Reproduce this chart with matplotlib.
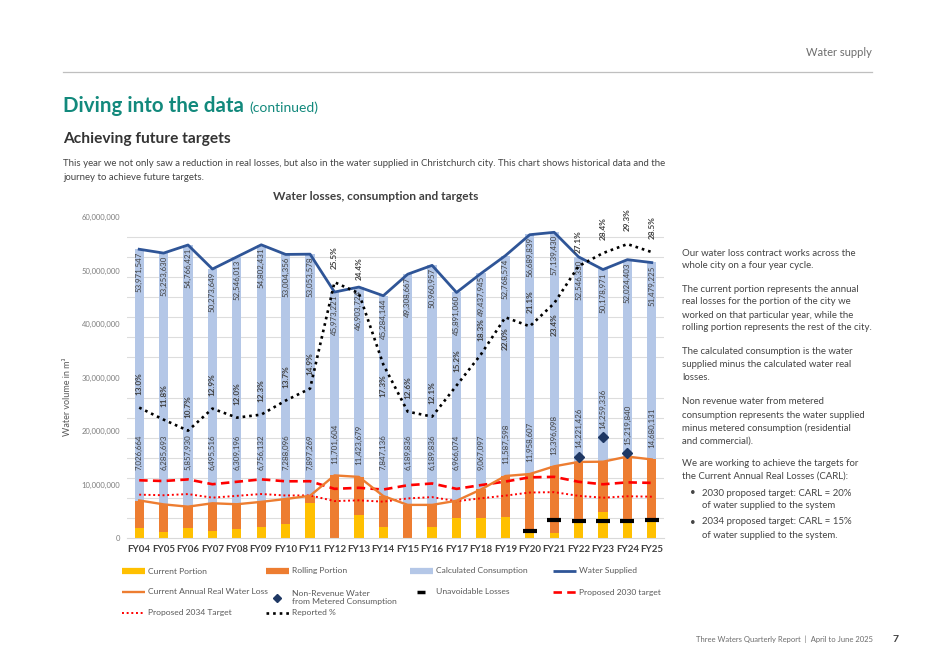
import numpy as np
import matplotlib
matplotlib.use("Agg")
from matplotlib import pyplot as plt
from matplotlib.lines import Line2D
from matplotlib.ticker import FuncFormatter

plt.rcParams["font.family"] = ["Lato", "DejaVu Sans"]

W, H = 934, 661

# --- data ---
years = ["FY04", "FY05", "FY06", "FY07", "FY08", "FY09", "FY10", "FY11", "FY12", "FY13", "FY14",
         "FY15", "FY16", "FY17", "FY18", "FY19", "FY20", "FY21", "FY22", "FY23", "FY24", "FY25"]
water_supplied = [53971547, 53253630, 54766421, 50273649, 52546013, 54802431, 53004356, 53053578,
                  45973221, 46903724, 45284144, 49308667, 50960957, 45891060, 49437945, 52768574,
                  56689839, 57139430, 52546330, 50178971, 52024403, 51479225]
real_loss = [7026664, 6285693, 5857930, 6495516, 6309196, 6756132, 7288096, 7897269, 11701604,
             11423679, 7847136, 6189836, 6189836, 6966074, 9067097, 11587598, 11958607, 13396098,
             14221426, 14259336, 15219840, 14680131]
# million m3
current_portion = [1.8, 1.1, 1.8, 1.4, 1.7, 2.1, 2.6, 6.6, 0.0, 4.3, 2.0,
                   0.0, 2.1, 3.8, 3.7, 4.0, 0.9, 0.9, 3.0, 4.8, 3.0, 3.0]
rolling_portion = [5.2, 5.2, 4.1, 5.1, 4.6, 4.7, 4.7, 1.3, 11.7, 7.1, 5.8,
                   6.2, 4.1, 3.2, 5.4, 7.6, 11.1, 12.5, 11.2, 9.5, 12.2, 11.7]
calc_consumption = [46.945, 46.968, 48.908, 43.778, 46.237, 48.046, 45.716, 45.157, 34.271, 35.480, 37.437,
                    43.119, 44.771, 38.925, 40.371, 41.181, 44.731, 43.743, 38.325, 35.920, 36.804, 36.799]
target_2030 = [10.79, 10.65, 10.95, 10.05, 10.51, 10.96, 10.60, 10.61, 9.19, 9.38, 9.06,
               9.86, 10.19, 9.18, 9.89, 10.55, 11.34, 11.43, 10.51, 10.04, 10.40, 10.30]
target_2034 = [8.10, 7.99, 8.21, 7.54, 7.88, 8.22, 7.95, 7.96, 6.90, 7.04, 6.79,
               7.40, 7.64, 6.88, 7.42, 7.92, 8.50, 8.57, 7.88, 7.53, 7.80, 7.72]
reported_pct = [13.0, 11.8, 10.7, 12.9, 12.0, 12.3, 13.7, 14.9, 25.5, 24.4, 17.3,
                12.6, 12.1, 15.2, 18.3, 22.0, 21.1, 23.4, 27.1, 28.4, 29.3, 28.5]
unavoidable_years = ["FY20", "FY21", "FY22", "FY23", "FY24", "FY25"]
unavoidable = [1.3, 3.4, 3.2, 3.2, 3.2, 3.4]
nrw_years = ["FY22", "FY23", "FY24"]
nrw = [15.2, 18.8, 15.8]
# % labels that Excel put under the line instead of above it
pct_below = ["FY14", "FY19", "FY21"]

C_CUR = "#FFC000"
C_ROL = "#ED7D31"
C_CONS = "#B4C7E7"
C_SUP = "#2F5597"
C_RED = "#FF0000"
C_NAVY = "#1F3864"
TXT = "#404040"
BODY = "#444444"


def fx(px):
    return px / W


def fy(py):
    return 1 - py / H


fig = plt.figure(figsize=(W / 100, H / 100), dpi=100)
ax = fig.add_axes([fx(127), fy(538), (664 - 127) / W, (538 - 217) / H])
ax2 = ax.twinx()

x = np.arange(len(years))
sup_m = np.array(water_supplied) / 1e6
loss_m = np.array(real_loss) / 1e6
cur = np.array(current_portion)
rol = np.array(rolling_portion)
ux = [years.index(y) for y in unavoidable_years]
nx = [years.index(y) for y in nrw_years]

bw = 0.38
ax.bar(x, cur, width=bw, color=C_CUR, zorder=2)
ax.bar(x, rol, width=bw, bottom=cur, color=C_ROL, zorder=2)
ax.bar(x, calc_consumption, width=bw, bottom=cur + rol, color=C_CONS, zorder=2)

ax.plot(x, target_2034, color=C_RED, lw=1.4, ls=(0, (1, 1.4)), zorder=3)
ax.plot(x, target_2030, color=C_RED, lw=1.9, ls=(0, (3.2, 2)), zorder=3)
ax.plot(x, loss_m, color=C_ROL, lw=1.7, zorder=3)
ax.plot(x, sup_m, color=C_SUP, lw=2.0, zorder=4)
ax.plot(ux, unavoidable, ls="none", marker="_", ms=10, mew=3, color="black", zorder=4)
ax.plot(nx, nrw, ls="none", marker="D", ms=5.5, color=C_NAVY, zorder=4)

# value labels
for i in range(len(years)):
    ax.text(x[i], sup_m[i] - 0.5, f"{water_supplied[i]:,}", rotation=90, ha="center", va="top",
            fontsize=5.7, color=TXT, zorder=5)
    base = max(loss_m[i] + 2.2, 12.7)
    if years[i] in nrw_years:
        base = max(base, nrw[nrw_years.index(years[i])] + 1.6)
    ax.text(x[i], base, f"{real_loss[i]:,}", rotation=90, ha="center", va="bottom",
            fontsize=5.7, color=TXT, zorder=5)

ax.set_xlim(-0.5, len(years) - 0.5)
ax.set_ylim(0, 60)
ax.set_yticks(np.arange(0, 61, 10))
ax.set_yticks(np.arange(0, 60.01, 3.75), minor=True)
ax.yaxis.set_major_formatter(FuncFormatter(lambda v, _: f"{v * 1e6:,.0f}"))
ax.grid(axis="y", which="minor", color="#DDDDDD", lw=0.8, zorder=0)
ax.set_axisbelow(True)
ax.tick_params(axis="y", which="both", length=0, pad=5, labelsize=5.5, labelcolor="#7F7F7F")
ax.set_xticks(x)
ax.set_xticklabels(years, fontsize=7, fontweight="bold", color=TXT)
ax.tick_params(axis="x", length=0, pad=5)
for s in ["top", "right", "left"]:
    ax.spines[s].set_visible(False)
ax.spines["bottom"].set_color("#D9D9D9")

# reported % on a hidden secondary axis (0-32 %)
ax2.set_ylim(0, 32)
ax2.plot(x, reported_pct, color="black", lw=1.9, ls=(0, (1, 1.5)), zorder=3)
for i in range(len(years)):
    if years[i] in pct_below:
        ax2.text(x[i], reported_pct[i] - 1.0, f"{reported_pct[i]:.1f}%", rotation=90, ha="center",
                 va="top", fontsize=5.9, fontweight="bold", color=TXT)
    else:
        ax2.text(x[i], reported_pct[i] + 1.3, f"{reported_pct[i]:.1f}%", rotation=90, ha="center",
                 va="bottom", fontsize=5.9, fontweight="bold", color=TXT)
ax2.set_yticks([])
for s in ax2.spines.values():
    s.set_visible(False)

# legend, laid out like the original grid
leg_entries = [
    (0, 0, Line2D([], [], color=C_CUR, lw=4.5, solid_capstyle="butt"), "Current Portion"),
    (1, 0, Line2D([], [], color=C_ROL, lw=4.5, solid_capstyle="butt"), "Rolling Portion"),
    (2, 0, Line2D([], [], color=C_CONS, lw=4.5, solid_capstyle="butt"), "Calculated Consumption"),
    (3, 0, Line2D([], [], color=C_SUP, lw=2.0, solid_capstyle="butt"), "Water Supplied"),
    (0, 1, Line2D([], [], color=C_ROL, lw=1.7, solid_capstyle="butt"), "Current Annual Real Water Loss"),
    (1, 1, Line2D([], [], ls="none", marker="D", ms=4, color=C_NAVY), "Non-Revenue Water\nfrom Metered Consumption"),
    (2, 1, Line2D([], [], ls="none", marker="_", ms=6, mew=2.5, color="black"), "Unavoidable Losses"),
    (3, 1, Line2D([], [], color=C_RED, lw=1.9, ls=(0, (3.2, 2))), "Proposed 2030 target"),
    (0, 2, Line2D([], [], color=C_RED, lw=1.4, ls=(0, (1, 1.4))), "Proposed 2034 Target"),
    (1, 2, Line2D([], [], color="black", lw=1.9, ls=(0, (1, 1.5))), "Reported %"),
]
col_x = [122, 266, 410, 553]
row_y = [571, 592, 613]
for c, r, h, lab in leg_entries:
    yy = row_y[r] + (5.5 if "\n" in lab else 0)
    fig.legend(handles=[h], labels=[lab], loc="center left", bbox_to_anchor=(fx(col_x[c]), fy(yy)),
               frameon=False, fontsize=6.1, labelcolor="#595959", borderpad=0, borderaxespad=0,
               handlelength=2.7, handletextpad=0.35)

# page texts
fig.text(fx(872), fy(53), "Water supply", ha="right", va="center", fontsize=8, color="#6D6D6D")
fig.add_artist(Line2D([fx(63), fx(872)], [fy(72), fy(72)], color="#BFBFBF", lw=0.9))
title = fig.text(fx(63), fy(112), "Diving into the data", fontsize=14.8, fontweight="bold",
                 color="#12897C", va="baseline")
fig.canvas.draw()
tb = title.get_window_extent()
fig.text((tb.x1 + 5) / W, fy(112), "(continued)", fontsize=10, color="#12897C", va="baseline")
fig.text(fx(63), fy(143), "Achieving future targets", fontsize=11.2, fontweight="bold", color="#333333",
         va="baseline")
fig.text(fx(63), fy(166), "This year we not only saw a reduction in real losses, but also in the water supplied "
         "in Christchurch city. This chart shows historical data and the", fontsize=6.9, color=BODY,
         va="baseline")
fig.text(fx(63), fy(180), "journey to achieve future targets.", fontsize=6.9, color=BODY, va="baseline")
fig.text(fx(376), fy(200), "Water losses, consumption and targets", ha="center", fontsize=8.6,
         fontweight="bold", color=TXT, va="baseline")
fig.text(fx(68), fy(397), "Water volume in m³", rotation=90, ha="center", va="center", fontsize=6.5,
         color="#595959")

side = [
    (253, "Our water loss contract works across the"),
    (266, "whole city on a four year cycle."),
    (289, "The current portion represents the annual"),
    (302, "real losses for the portion of the city we"),
    (315, "worked on that particular year, while the"),
    (328, "rolling portion represents the rest of the city."),
    (352, "The calculated consumption is the water"),
    (365, "supplied minus the calculated water real"),
    (378, "losses."),
    (402, "Non revenue water from metered"),
    (415, "consumption represents the water supplied"),
    (428, "minus metered consumption (residential"),
    (441, "and commercial)."),
    (463, "We are working to achieve the targets for"),
    (476, "the Current Annual Real Losses (CARL):"),
]
for yy, t in side:
    fig.text(fx(682), fy(yy), t, fontsize=6.9, color=BODY, va="center")
bullets = [
    (493, "2030 proposed target: CARL = 20%"),
    (506, "of water supplied to the system"),
    (522, "2034 proposed target: CARL = 15%"),
    (535, "of water supplied to the system."),
]
for k, (yy, t) in enumerate(bullets):
    if k % 2 == 0:
        fig.text(fx(690), fy(yy), "•", fontsize=6.9, color=BODY, va="center")
    fig.text(fx(702), fy(yy), t, fontsize=6.9, color=BODY, va="center")

fig.text(fx(873), fy(639), "Three Waters Quarterly Report  |  April to June 2025", ha="right", va="center",
         fontsize=5.5, color="#6D6D6D")
fig.text(fx(896), fy(639), "7", ha="center", va="center", fontsize=7.5, fontweight="bold", color=TXT)

fig.savefig("out.png", dpi=100)
